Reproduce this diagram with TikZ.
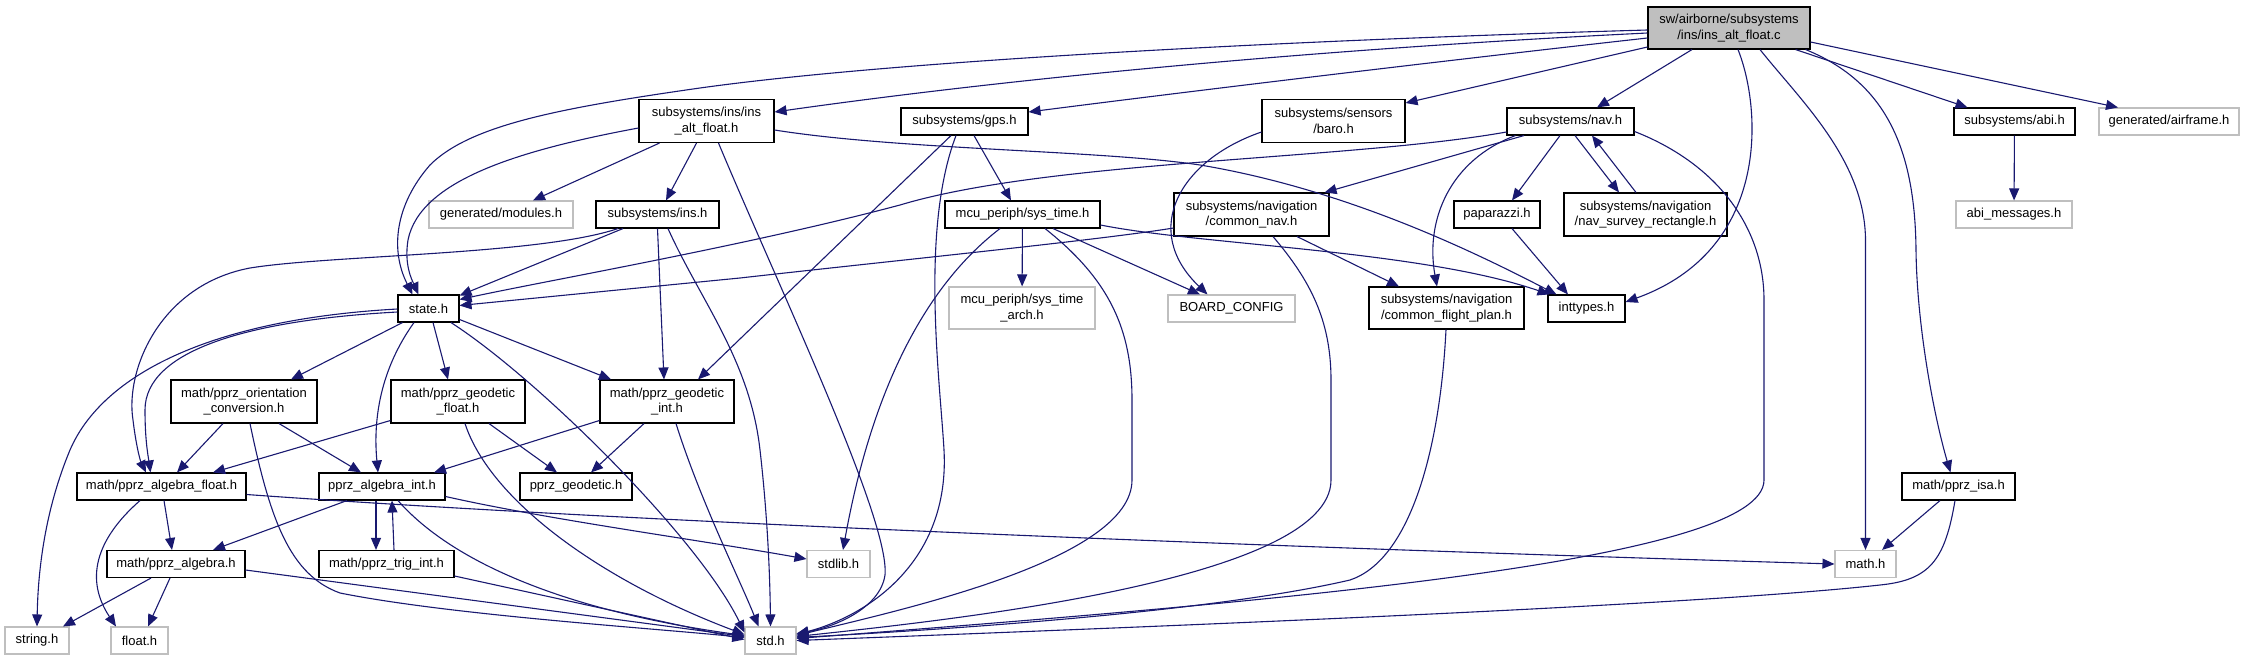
\documentclass[tikz,border=0pt]{standalone}
\usepackage{fontspec}
\setmainfont{Liberation Sans}
\usetikzlibrary{arrows.meta}
\definecolor{edgec}{HTML}{191970}
\definecolor{grayc}{HTML}{BFBFBF}
\newcommand{\dfont}{\fontsize{13}{15.3}\selectfont}
\begin{document}
\begin{tikzpicture}[x=1pt,y=-1pt,
  nd/.style={draw=black, line width=1.1pt, rectangle, inner sep=0pt, align=center, font=\dfont, minimum height=27pt},
  tw/.style={nd, minimum height=43pt},
  gr/.style={nd, draw=grayc},
  gtw/.style={tw, draw=grayc},
  e/.style={draw=edgec, line width=1.1pt, -{Triangle[length=12pt,width=10pt]}}
]
\useasboundingbox (0,0) rectangle (2244,661);
% nodes
\node[tw,fill=grayc,minimum width=162pt,minimum height=42pt] (main) at (1729,28) {sw/airborne/subsystems\\/ins/ins\_alt\_float.c};
\node[tw,minimum width=135pt] (insalt) at (706.5,121) {subsystems/ins/ins\\\_alt\_float.h};
\node[nd,minimum width=127pt] (gps) at (964.5,121.5) {subsystems/gps.h};
\node[tw,minimum width=143pt] (baro) at (1333.5,121) {subsystems/sensors\\/baro.h};
\node[nd,minimum width=127pt] (nav) at (1570.5,121.5) {subsystems/nav.h};
\node[nd,minimum width=121pt] (abi) at (2014.5,121.5) {subsystems/abi.h};
\node[gr,minimum width=140pt] (airframe) at (2169,121.5) {generated/airframe.h};
\node[gr,minimum width=144pt] (modules) at (501,214.5) {generated/modules.h};
\node[nd,minimum width=123pt] (ins) at (657.5,214.5) {subsystems/ins.h};
\node[nd,minimum width=155pt] (systime) at (1022.5,214.5) {mcu\_periph/sys\_time.h};
\node[tw,minimum width=155pt] (commonnav) at (1251.5,214.5) {subsystems/navigation\\/common\_nav.h};
\node[nd,minimum width=86pt] (paparazzi) at (1497,214.5) {paparazzi.h};
\node[tw,minimum width=163pt] (navsurvey) at (1645.5,214.5) {subsystems/navigation\\/nav\_survey\_rectangle.h};
\node[gr,minimum width=116pt] (abimsg) at (2014,214.5) {abi\_messages.h};
\node[nd,minimum width=61pt] (state) at (428.5,308.5) {state.h};
\node[gtw,minimum width=146pt,minimum height=42pt] (systimearch) at (1022,308) {mcu\_periph/sys\_time\\\_arch.h};
\node[gr,minimum width=127pt] (boardcfg) at (1231.5,308.5) {BOARD\_CONFIG};
\node[tw,minimum width=155pt,minimum height=42pt] (cfp) at (1446.5,308) {subsystems/navigation\\/common\_flight\_plan.h};
\node[nd,minimum width=77pt] (inttypes) at (1586.5,308.5) {inttypes.h};
\node[tw,minimum width=146pt] (orient) at (244,401.5) {math/pprz\_orientation\\\_conversion.h};
\node[tw,minimum width=134pt] (geofloat) at (458,401.5) {math/pprz\_geodetic\\\_float.h};
\node[tw,minimum width=134pt] (geoint) at (667,401.5) {math/pprz\_geodetic\\\_int.h};
\node[nd,minimum width=169pt] (algfloat) at (161.5,486.5) {math/pprz\_algebra\_float.h};
\node[nd,minimum width=126pt] (algint) at (382,486.5) {pprz\_algebra\_int.h};
\node[nd,minimum width=112pt] (geodetic) at (576,486.5) {pprz\_geodetic.h};
\node[nd,minimum width=113pt] (isa) at (1958.5,486.5) {math/pprz\_isa.h};
\node[nd,minimum width=138pt] (algebra) at (176,564) {math/pprz\_algebra.h};
\node[nd,minimum width=135pt] (trig) at (386.5,564) {math/pprz\_trig\_int.h};
\node[gr,minimum width=63pt] (stdlib) at (838.5,564) {stdlib.h};
\node[gr,minimum width=61pt] (mathh) at (1865.5,564) {math.h};
\node[gr,minimum width=64pt] (stringh) at (37,640.5) {string.h};
\node[gr,minimum width=57pt] (floath) at (139.5,640.5) {float.h};
\node[gr,minimum width=51pt] (stdh) at (770.5,640.5) {std.h};
% edges from main
\draw[e] ([yshift=-2]main.west) .. controls (1300,40) and (900,60) .. (700,88) .. controls (560,108) and (470,125) .. (430,165) .. controls (395,205) and (390,250) .. ([xshift=-16]state.north);
\draw[e] ([yshift=-5]main.west) .. controls (1300,50) and (1000,80) .. ([yshift=9]insalt.east);
\draw[e] ([yshift=-10]main.west) .. controls (1450,60) and (1200,90) .. ([yshift=9.5]gps.east);
\draw[e] ([yshift=-19]main.west) -- ([yshift=18]baro.east);
\draw[e] ([xshift=-37]main.south) -- ([xshift=26.5]nav.north);
\draw[e] ([xshift=9]main.south) .. controls (1762,110) and (1770,250) .. ([yshift=6.5]inttypes.east);
\draw[e] ([xshift=31]main.south) .. controls (1800,100) and (1865,160) .. (1865.5,240) -- (mathh.north);
\draw[e] ([xshift=-5]main.south east) .. controls (1880,80) and (1915,140) .. (1916,250) .. controls (1917,330) and (1935,420) .. ([xshift=-8]isa.north);
\draw[e] ([xshift=-15]main.south east) -- ([xshift=-47]abi.north);
\draw[e] ([yshift=-14]main.east) -- ([xshift=-51]airframe.north);
% ins_alt_float.h
\draw[e] ([yshift=-7]insalt.west) .. controls (520,150) and (420,180) .. (408,240) .. controls (404,265) and (412,280) .. ([xshift=-10]state.north);
\draw[e] ([xshift=-47]insalt.south) -- ([xshift=32]modules.north);
\draw[e] ([xshift=-10]insalt.south) -- ([xshift=8.5]ins.north);
\draw[e] ([xshift=12]insalt.south) .. controls (780,290) and (890,520) .. (885,575) .. controls (880,610) and (830,628) .. ([yshift=7]stdh.east);
\draw[e] ([yshift=-9]insalt.east) .. controls (900,150) and (1100,150) .. (1200,165) .. controls (1350,190) and (1480,255) .. ([xshift=-30]inttypes.north);
% gps.h
\draw[e] ([xshift=9.5]gps.south) -- ([xshift=-11.5]systime.north);
\draw[e] ([xshift=-13.5]gps.south) -- ([xshift=31]geoint.north);
\draw[e] ([xshift=-8.5]gps.south) .. controls (920,230) and (940,380) .. (944,450) .. controls (950,560) and (870,615) .. ([yshift=6]stdh.east);
% sys_time.h
\draw[e] ([xshift=-22.5]systime.south) .. controls (920,290) and (870,400) .. ([xshift=4.5]stdlib.north);
\draw[e] (systime) -- (systimearch);
\draw[e] ([xshift=22.5]systime.south) .. controls (1110,280) and (1132,330) .. (1132,400) -- (1132,480) .. controls (1132,560) and (900,610) .. ([yshift=5]stdh.east);
\draw[e] ([xshift=30.5]systime.south) -- ([xshift=-31.5]boardcfg.north);
\draw[e] ([yshift=-10.5]systime.east) .. controls (1200,245) and (1420,250) .. ([xshift=-37]inttypes.north);
% baro.h
\draw[e] ([yshift=-11]baro.west) .. controls (1180,160) and (1140,230) .. ([xshift=-24]boardcfg.north);
% common_nav.h
\draw[e] ([yshift=-13.5]commonnav.west) .. controls (1100,240) and (900,260) .. (740,278) -- ([yshift=3]state.east);
\draw[e] ([xshift=45.5]commonnav.south) -- ([xshift=-47.5]cfp.north);
\draw[e] ([xshift=21.5]commonnav.south) .. controls (1310,280) and (1331,320) .. (1331,380) -- (1331,480) .. controls (1331,580) and (950,620) .. ([yshift=4]stdh.east);
% nav.h
\draw[e] ([yshift=-10.5]nav.west) .. controls (1350,160) and (1050,160) .. (900,205) .. controls (750,245) and (550,280) .. ([yshift=9]state.east);
\draw[e] ([xshift=-46.5]nav.south) -- ([xshift=-5]commonnav.north east);
\draw[e] ([xshift=-55]nav.south) .. controls (1450,160) and (1425,220) .. ([xshift=-9.5]cfp.north);
\draw[e] ([xshift=-10.5]nav.south) -- ([xshift=15]paparazzi.north);
\draw[e] ([xshift=4.5]nav.south) -- ([xshift=-26.5]navsurvey.north);
\draw[e] ([xshift=-9.5]navsurvey.north) -- ([xshift=21.5]nav.south);
\draw[e] ([yshift=-10]nav.east) .. controls (1720,165) and (1764,230) .. (1764,300) -- (1764,480) .. controls (1764,560) and (1300,600) .. ([yshift=2]stdh.east);
% paparazzi
\draw[e] ([xshift=15]paparazzi.south) -- ([xshift=-18.5]inttypes.north);
% ins.h
\draw[e] ([xshift=-34.5]ins.south) -- ([yshift=13]state.east);
\draw[e] ([xshift=-39.5]ins.south) .. controls (540,255) and (330,255) .. (250,268) .. controls (160,285) and (125,370) .. (133,420) .. controls (136,445) and (140,460) .. ([xshift=-15.5]algfloat.north);
\draw[e] (ins.south) -- ([xshift=-3]geoint.north);
\draw[e] ([xshift=10.5]ins.south) .. controls (700,300) and (750,360) .. (760,450) .. controls (768,520) and (770,580) .. (stdh.north);
% state.h
\draw[e] ([xshift=-26]state.south) -- ([xshift=47]orient.north);
\draw[e] ([xshift=-14.5]state.south) .. controls (380,370) and (373,420) .. ([xshift=-4]algint.north);
\draw[e] ([xshift=4.5]state.south) -- ([xshift=-10]geofloat.north);
\draw[e] ([xshift=22.5]state.south) .. controls (540,380) and (700,540) .. ([yshift=8]stdh.west);
\draw[e] ([yshift=-11]state.east) -- ([xshift=-56]geoint.north);
\draw[e] ([yshift=-3.5]state.west) .. controls (250,320) and (145,350) .. (145,410) .. controls (145,440) and (148,455) .. ([xshift=-11]algfloat.north);
\draw[e] ([yshift=-0.5]state.west) .. controls (200,320) and (100,380) .. (70,450) .. controls (45,510) and (38,570) .. (stringh.north);
% orientation
\draw[e] ([xshift=-21]orient.south) -- ([xshift=15.5]algfloat.north);
\draw[e] ([xshift=35]orient.south) -- ([xshift=-21]algint.north);
\draw[e] ([xshift=6]orient.south) .. controls (270,520) and (290,575) .. (340,593) .. controls (450,615) and (650,628) .. ([yshift=3]stdh.west);
% geodetic float
\draw[e] ([yshift=-19]geofloat.west) -- ([xshift=51.5]algfloat.north);
\draw[e] ([xshift=31]geofloat.south) -- ([xshift=-19]geodetic.north);
\draw[e] ([xshift=7]geofloat.south) .. controls (490,500) and (600,580) .. ([yshift=6]stdh.west);
% geodetic int
\draw[e] ([yshift=-19]geoint.west) -- ([xshift=52]algint.north);
\draw[e] ([xshift=-23]geoint.south) -- ([xshift=15]geodetic.north);
\draw[e] ([xshift=9]geoint.south) .. controls (700,500) and (740,580) .. ([xshift=-12]stdh.north);
% algebra float
\draw[e] ([xshift=-21.5]algfloat.south) .. controls (95,540) and (85,580) .. ([xshift=-23.5]floath.north);
\draw[e] ([xshift=2.5]algfloat.south) -- ([xshift=-4]algebra.north);
\draw[e] ([yshift=-8]algfloat.east) .. controls (600,520) and (1200,545) .. (mathh.west);
% algebra int
\draw[e] ([xshift=-35]algint.south) -- ([xshift=37]algebra.north);
\draw[e] ([xshift=-6]algint.south) -- ([xshift=-10.5]trig.north);
\draw[e] ([xshift=7.5]trig.north) -- ([xshift=10]algint.south);
\draw[e] ([yshift=-10]algint.east) .. controls (550,520) and (700,540) .. ([yshift=5]stdlib.west);
\draw[e] ([xshift=16]algint.south) .. controls (450,560) and (560,610) .. ([yshift=5]stdh.west);
% trig
\draw[e] ([yshift=-12]trig.east) -- ([yshift=1]stdh.west);
% algebra
\draw[e] ([xshift=-25]algebra.south) -- ([xshift=26]stringh.north);
\draw[e] ([xshift=-6]algebra.south) -- ([xshift=8.5]floath.north);
\draw[e] ([yshift=-6]algebra.east) -- ([yshift=4]stdh.west);
% isa
\draw[e] ([xshift=-18.5]isa.south) -- ([xshift=16.5]mathh.north);
\draw[e] ([xshift=-3.5]isa.south) .. controls (1945,560) and (1930,580) .. (1880,585) .. controls (1700,605) and (1200,625) .. (stdh.east);
% abi
\draw[e] (abi) -- (abimsg);
% common flight plan
\draw[e] ([xshift=-0.5]cfp.south) .. controls (1440,450) and (1410,560) .. (1350,580) .. controls (1200,615) and (900,632) .. ([yshift=3]stdh.east);
\end{tikzpicture}
\end{document}
